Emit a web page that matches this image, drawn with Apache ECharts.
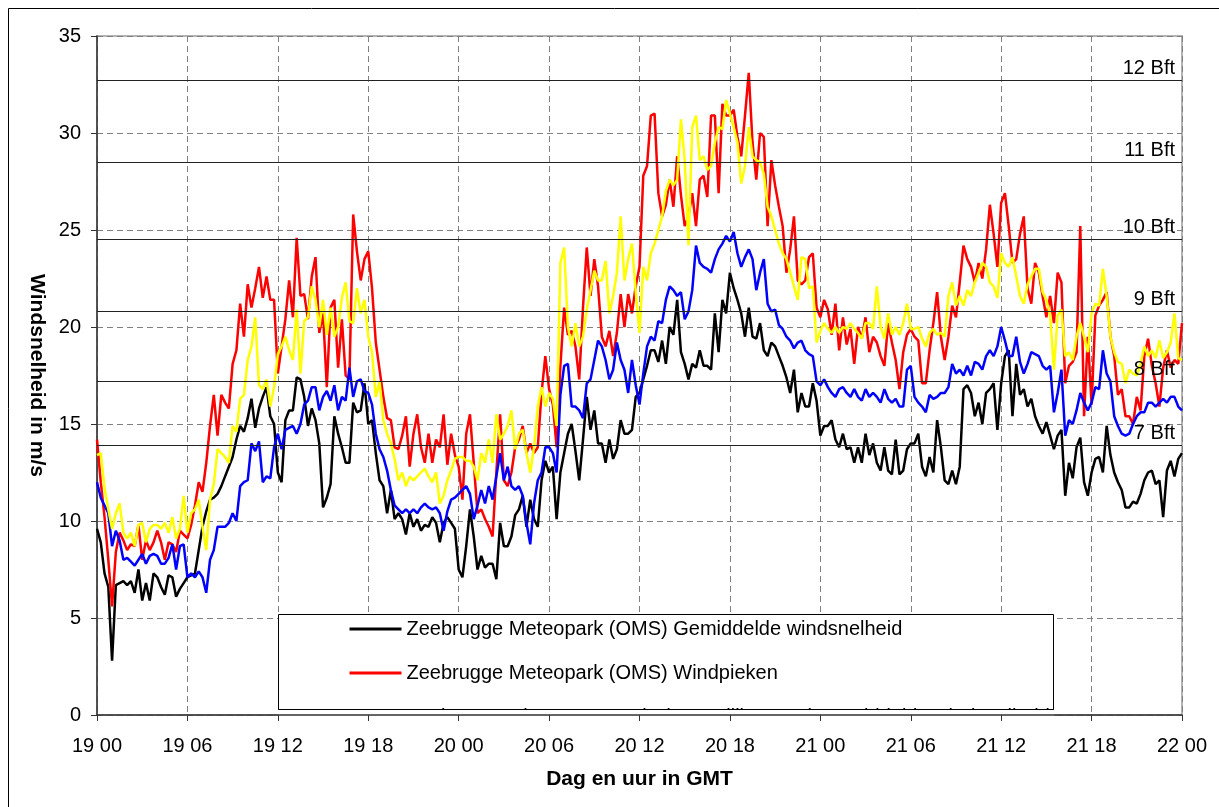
<!DOCTYPE html>
<html>
<head>
<meta charset="utf-8">
<script src="https://cdn.jsdelivr.net/npm/echarts@6/dist/echarts.min.js"></script>
<style>
  html, body { margin: 0; padding: 0; background: #fff; }
  #wind-chart { width: 1219px; height: 807px; }
</style>
</head>
<body>
<div id="wind-chart"></div>
<script>
// one reading every 15 minutes, 19 00 -> 22 00 (72 h)
const stepHours = 0.25
const tickLabels = ['19 00', '19 06', '19 12', '19 18', '20 00', '20 06', '20 12', '20 18', '21 00', '21 06', '21 12', '21 18', '22 00']
const bftLevels = [13.9, 17.2, 20.8, 24.5, 28.5, 32.7]
const bftLabels = ['7 Bft', '8 Bft', '9 Bft', '10 Bft', '11 Bft', '12 Bft']
const seriesNames = [
  'Zeebrugge Meteopark (OMS) Gemiddelde windsnelheid',
  'Zeebrugge Meteopark (OMS) Windpieken',
  'Zeebrugge Dienstmeetstatie (Westelijke Dam) Gemiddelde windsnelheid',
  'Zeebrugge Dienstmeetstatie (Westelijke Dam) Windpieken'
]

const meanOms = [
  9.6, 8.9, 7.3, 6.6, 2.8, 6.7, 6.8, 6.9, 6.7, 6.9, 6.3, 7.5,
  5.9, 6.8, 5.9, 7.3, 7.1, 6.6, 6.2, 7.2, 7.1, 6.1, 6.5, 6.8,
  7.1, 7.2, 7.3, 8.5, 9.7, 10.5, 11.1, 11.2, 11.4, 11.8, 12.3, 12.8,
  13.3, 14.2, 14.9, 14.6, 15.3, 16.3, 14.8, 15.8, 16.4, 16.9, 15.4, 15.0,
  12.5, 12.0, 15.2, 15.7, 15.7, 17.4, 17.3, 16.4, 14.9, 15.8, 15.2, 14.0,
  10.7, 11.2, 11.9, 15.4, 14.5, 13.8, 13.0, 13.0, 16.1, 15.6, 15.7, 17.1,
  15.0, 15.2, 13.5, 12.1, 11.8, 10.4, 11.6, 10.1, 10.4, 10.1, 9.3, 10.4,
  9.7, 10.1, 9.5, 9.8, 9.7, 10.2, 9.9, 8.9, 9.9, 10.2, 9.9, 9.6,
  7.5, 7.1, 8.7, 10.6, 9.2, 7.5, 8.2, 7.6, 7.8, 7.8, 7.0, 9.9,
  8.7, 8.7, 9.2, 10.3, 10.6, 11.3, 9.7, 11.1, 10.1, 9.7, 12.1, 13.1,
  12.5, 12.8, 10.1, 12.5, 13.5, 14.5, 15.0, 13.6, 12.1, 14.2, 16.4, 14.7,
  15.7, 14.0, 14.0, 13.0, 14.2, 13.2, 13.7, 15.2, 14.5, 14.5, 14.7, 16.4,
  16.6, 17.3, 18.0, 18.8, 18.8, 18.2, 19.3, 18.1, 20.0, 19.6, 21.4, 18.7,
  18.1, 17.3, 18.1, 17.9, 18.8, 18.0, 18.0, 17.8, 20.7, 18.7, 21.4, 20.7,
  22.8, 22.0, 21.4, 20.7, 19.5, 21.0, 19.5, 19.4, 20.2, 18.8, 18.5, 19.2,
  19.0, 18.5, 18.0, 17.4, 16.6, 17.8, 15.6, 16.6, 15.9, 15.9, 17.1, 16.2,
  14.4, 14.9, 14.9, 15.2, 14.2, 13.8, 14.5, 13.7, 13.8, 13.0, 13.8, 13.0,
  14.5, 13.4, 14.0, 13.0, 12.6, 13.8, 12.6, 12.4, 14.2, 12.4, 12.6, 13.7,
  14.0, 14.0, 14.5, 12.8, 12.3, 13.3, 12.5, 15.2, 13.8, 12.1, 11.9, 12.6,
  11.9, 12.8, 16.8, 17.0, 16.6, 15.4, 16.1, 15.0, 16.6, 16.8, 17.1, 14.7,
  17.1, 18.5, 18.8, 15.4, 18.1, 16.5, 16.8, 15.9, 16.3, 15.4, 14.9, 14.5,
  15.1, 14.4, 13.7, 14.4, 14.7, 11.3, 13.0, 12.2, 13.8, 14.3, 12.0, 11.3,
  12.5, 13.2, 13.3, 12.5, 14.9, 13.4, 12.5, 12.0, 11.6, 10.7, 10.7, 11.0,
  10.9, 11.4, 12.1, 12.5, 12.6, 11.9, 12.1, 10.2, 12.6, 13.1, 12.3, 13.2,
  13.5
]

const gustOms = [
  14.2, 12.0, 10.2, 8.0, 5.6, 8.4, 9.4, 9.0, 8.5, 8.8, 8.7, 9.8,
  8.0, 9.0, 8.5, 8.9, 9.5, 8.9, 8.0, 8.9, 8.8, 8.4, 9.5, 9.3,
  9.1, 9.8, 10.8, 12.0, 11.5, 13.0, 14.9, 16.5, 14.4, 16.5, 16.1, 15.8,
  18.1, 18.8, 21.2, 19.5, 22.2, 21.0, 22.0, 23.1, 21.5, 22.6, 21.4, 21.4,
  17.6, 19.0, 20.4, 22.4, 20.5, 24.6, 21.6, 21.7, 20.4, 22.6, 23.6, 19.7,
  20.7, 16.9, 21.0, 21.4, 17.9, 20.4, 17.5, 17.3, 25.8, 23.9, 22.4, 23.5,
  23.9, 22.0, 19.2, 17.8, 16.4, 15.3, 15.2, 13.8, 13.7, 14.4, 15.4, 12.8,
  14.5, 15.5, 13.8, 13.0, 14.5, 13.0, 14.2, 13.8, 15.5, 12.9, 14.5, 13.4,
  12.8, 11.1, 14.5, 15.5, 13.0, 10.4, 10.6, 10.1, 9.7, 9.2, 12.5, 15.5,
  12.1, 11.8, 12.5, 13.8, 14.2, 14.9, 13.5, 14.0, 13.5, 13.8, 16.6, 18.5,
  16.8, 16.0, 13.8, 18.0, 21.0, 19.6, 19.8, 19.0, 17.3, 21.0, 24.1, 21.6,
  23.5, 22.1, 19.5, 19.0, 19.8, 18.5, 19.7, 21.7, 20.0, 21.7, 20.7, 22.1,
  23.1, 27.8, 28.3, 30.9, 31.0, 26.9, 25.7, 26.3, 27.6, 26.2, 28.8, 26.8,
  25.2, 25.7, 26.9, 25.2, 27.6, 27.8, 26.7, 30.9, 30.9, 26.9, 31.5, 30.9,
  30.9, 31.2, 29.8, 28.8, 30.9, 33.1, 29.5, 27.6, 30.0, 29.8, 25.2, 28.6,
  27.3, 26.2, 25.2, 22.8, 24.0, 25.7, 22.4, 22.2, 22.4, 23.6, 23.8, 21.0,
  20.5, 21.4, 20.9, 19.6, 21.2, 18.8, 20.5, 19.1, 19.9, 18.1, 20.0, 19.4,
  20.5, 18.7, 19.5, 19.2, 18.5, 18.0, 20.2, 19.2, 18.3, 16.8, 18.7, 19.6,
  19.9, 19.5, 19.3, 17.1, 17.1, 18.8, 20.2, 21.8, 19.5, 18.3, 19.5, 21.1,
  20.5, 22.3, 24.2, 23.5, 23.1, 22.3, 23.3, 22.5, 24.0, 26.3, 24.8, 23.1,
  26.4, 26.9, 25.2, 23.3, 23.5, 24.8, 25.7, 22.0, 21.2, 23.3, 22.8, 21.6,
  20.5, 21.6, 20.2, 22.8, 22.3, 17.1, 18.0, 18.2, 18.7, 25.2, 15.4, 19.5,
  16.0, 20.6, 21.1, 21.4, 21.8, 19.5, 18.5, 16.5, 16.8, 15.4, 15.4, 15.0,
  16.4, 15.7, 18.5, 19.4, 18.0, 17.1, 15.9, 17.9, 18.8, 17.9, 18.3, 18.1,
  20.2
]

const meanDam = [
  12.0, 11.2, 10.8, 10.4, 8.7, 9.5, 9.0, 8.0, 8.1, 7.9, 7.7, 8.0,
  8.3, 7.8, 8.2, 8.3, 8.2, 7.8, 7.8, 8.1, 8.8, 7.5, 8.7, 8.8,
  7.1, 7.3, 7.1, 7.4, 7.1, 6.3, 8.0, 8.5, 9.7, 9.7, 9.7, 9.9,
  10.4, 10.0, 11.8, 12.0, 12.1, 14.0, 13.6, 14.1, 12.0, 12.3, 12.2, 13.8,
  14.5, 13.7, 14.7, 14.8, 14.9, 14.5, 15.0, 16.0, 16.2, 16.9, 16.9, 15.7,
  16.4, 16.7, 16.2, 17.0, 15.7, 16.4, 16.2, 17.9, 16.4, 17.2, 17.3, 16.7,
  16.6, 16.0, 14.5, 13.7, 13.3, 12.6, 11.6, 10.8, 10.6, 10.4, 10.6, 10.4,
  10.6, 10.4, 10.7, 10.9, 10.7, 10.6, 10.7, 10.4, 9.5, 10.5, 11.1, 11.2,
  11.4, 11.6, 11.8, 11.4, 10.1, 10.8, 11.6, 10.9, 11.8, 11.1, 12.3, 13.5,
  12.1, 12.8, 11.8, 11.6, 11.8, 11.3, 9.9, 8.8, 10.9, 12.1, 12.5, 13.8,
  13.8, 13.5, 12.5, 16.5, 18.0, 18.1, 15.9, 15.9, 15.7, 15.3, 17.1, 17.3,
  18.3, 19.3, 19.0, 18.3, 17.3, 17.8, 19.2, 18.3, 17.8, 16.6, 18.3, 17.0,
  16.0, 17.6, 19.0, 19.5, 19.3, 20.3, 20.2, 21.4, 22.1, 21.9, 21.6, 21.8,
  20.4, 20.8, 21.9, 24.2, 23.3, 23.1, 23.0, 22.8, 23.5, 24.0, 24.3, 24.7,
  24.4, 24.9, 23.8, 23.1, 23.6, 24.0, 23.5, 21.9, 22.8, 23.5, 21.2, 20.8,
  20.9, 20.1, 19.9, 19.5, 19.3, 18.9, 19.2, 19.3, 18.8, 18.6, 18.5, 17.2,
  17.0, 17.3, 16.9, 16.6, 16.4, 16.8, 16.9, 16.6, 16.4, 16.8, 16.4, 16.2,
  16.8, 16.4, 16.6, 16.4, 16.1, 16.8, 16.3, 16.1, 16.3, 15.9, 15.9, 17.8,
  18.0, 16.4, 16.1, 15.9, 15.6, 16.5, 16.3, 16.4, 16.6, 16.6, 16.9, 18.1,
  17.6, 17.8, 17.5, 18.0, 17.5, 18.2, 18.1, 17.8, 18.5, 18.8, 18.5, 19.0,
  20.0, 19.3, 18.5, 18.5, 19.5, 18.2, 17.6, 18.1, 18.7, 18.6, 18.5, 18.0,
  17.8, 18.0, 15.6, 16.6, 17.8, 14.4, 15.2, 15.0, 15.7, 16.6, 16.1, 15.7,
  16.1, 16.9, 16.8, 18.8, 17.6, 17.2, 15.4, 14.9, 14.5, 14.4, 14.5, 15.0,
  15.4, 15.6, 15.6, 16.1, 16.1, 15.9, 16.1, 16.3, 16.1, 16.4, 16.4, 15.9,
  15.7
]

const gustDam = [
  13.4, 13.5, 11.7, 10.6, 9.6, 10.4, 10.9, 9.4, 9.1, 9.4, 8.7, 9.8,
  9.9, 8.9, 9.6, 9.8, 9.8, 9.6, 9.9, 9.4, 10.2, 9.1, 9.6, 11.3,
  9.4, 10.4, 10.6, 11.1, 9.7, 8.5, 11.1, 11.9, 13.7, 13.5, 13.3, 13.0,
  14.9, 14.6, 16.3, 16.5, 18.3, 19.0, 20.5, 17.0, 16.8, 17.3, 15.9, 16.9,
  18.6, 19.0, 19.5, 18.8, 18.3, 20.9, 17.6, 20.3, 20.5, 22.1, 21.4, 20.0,
  21.4, 19.6, 21.0, 19.5, 20.0, 21.5, 22.3, 20.3, 20.2, 22.0, 20.7, 21.4,
  19.5, 18.7, 16.4, 17.2, 15.2, 14.5, 14.0, 13.2, 12.1, 12.5, 11.8, 12.3,
  12.1, 12.3, 12.5, 12.7, 12.3, 12.0, 12.5, 10.9, 11.3, 12.1, 12.6, 13.2,
  13.3, 13.3, 13.1, 13.1, 12.8, 12.1, 13.5, 13.0, 14.2, 13.0, 15.5, 14.2,
  14.5, 14.9, 15.7, 13.7, 14.5, 14.7, 13.5, 12.5, 13.8, 15.9, 16.9, 15.9,
  16.6, 16.3, 14.9, 23.3, 24.1, 20.0, 19.0, 20.2, 19.0, 19.5, 20.9, 21.9,
  22.9, 22.4, 22.4, 23.4, 20.7, 21.6, 22.8, 25.7, 22.4, 23.5, 24.3, 21.8,
  19.7, 23.1, 22.4, 23.8, 24.3, 25.0, 25.7, 27.0, 27.6, 27.3, 27.6, 30.7,
  28.6, 24.2, 30.3, 30.9, 28.6, 28.8, 28.1, 28.3, 29.5, 30.3, 30.2, 31.7,
  31.0, 30.3, 29.5, 27.4, 28.3, 30.3, 28.8, 28.6, 28.5, 27.9, 26.2, 25.7,
  25.0, 24.3, 23.8, 23.5, 22.8, 22.1, 21.4, 23.6, 23.5, 22.0, 22.1, 19.2,
  19.8, 20.2, 19.9, 19.7, 20.0, 19.7, 20.0, 19.9, 20.2, 19.9, 19.7, 19.4,
  20.2, 20.2, 19.9, 22.1, 20.0, 19.4, 20.7, 19.6, 20.0, 19.6, 20.2, 21.2,
  19.9, 19.9, 20.0, 19.4, 19.0, 19.7, 19.9, 19.6, 19.7, 19.5, 21.6, 22.3,
  21.1, 21.6, 21.1, 21.9, 21.6, 22.3, 22.8, 23.3, 23.1, 22.3, 22.1, 21.5,
  23.8, 23.3, 23.1, 23.6, 22.6, 21.6, 21.2, 22.2, 22.6, 23.0, 23.0, 21.8,
  21.4, 20.6, 17.8, 20.6, 20.9, 18.5, 18.7, 18.3, 19.5, 20.2, 19.5, 18.7,
  20.7, 21.2, 21.1, 23.0, 21.6, 19.5, 18.7, 18.2, 18.1, 17.1, 17.8, 17.6,
  17.5, 18.1, 19.0, 18.5, 18.8, 18.4, 19.3, 18.4, 18.7, 19.2, 20.7, 18.4,
  18.3
]

const font = 'Liberation Sans, Arial, sans-serif'
const lineColors = ['#000000', '#ff0000', '#0000ff', '#ffff00']

const chart = echarts.init(document.getElementById('wind-chart'))

const option = {
  animation: false,
  textStyle: { fontFamily: font },
  grid: {
    left: 97,
    right: 37,
    top: 36,
    bottom: 92,
    show: true,
    borderColor: '#b4b4b4',
    borderWidth: 2,
    backgroundColor: 'transparent'
  },
  legend: {
    orient: 'vertical',
    left: 348,
    top: 619,
    padding: 0,
    itemWidth: 52,
    itemHeight: 20,
    itemGap: 24,
    z: 4,
    selectedMode: false,
    data: seriesNames,
    itemStyle: { opacity: 0 },
    lineStyle: { width: 3 },
    textStyle: { fontFamily: font, fontSize: 20, color: '#000' }
  },
  xAxis: [
    {
      // grid lines only, drawn under the legend box
      type: 'value',
      min: 0,
      max: 72,
      interval: 6,
      position: 'bottom',
      axisLine: { show: false },
      axisTick: { show: false },
      axisLabel: { show: false },
      splitLine: { show: true, lineStyle: { color: '#808080', width: 1, type: [6, 4] } }
    },
    {
      // axis line, ticks, labels, name - drawn above the legend box
      type: 'value',
      min: 0,
      max: 72,
      interval: 6,
      position: 'bottom',
      z: 10,
      axisLine: { show: true, onZero: false, lineStyle: { color: '#333', width: 1.5 } },
      axisTick: { show: true, length: 6, lineStyle: { color: '#333' } },
      axisLabel: {
        margin: 21,
        fontSize: 20,
        color: '#000',
        fontFamily: font,
        formatter: v => tickLabels[Math.round(v / 6)]
      },
      splitLine: { show: false },
      name: 'Dag en uur in GMT',
      nameLocation: 'middle',
      nameGap: 54,
      nameTextStyle: { fontSize: 21, fontWeight: 'bold', color: '#000', fontFamily: font }
    }
  ],
  yAxis: {
    type: 'value',
    min: 0,
    max: 35,
    interval: 5,
    axisLine: { show: true, lineStyle: { color: '#333', width: 1.5 } },
    axisTick: { show: true, length: 6, lineStyle: { color: '#333' } },
    axisLabel: { margin: 16, fontSize: 20, color: '#000', fontFamily: font },
    splitLine: { show: true, lineStyle: { color: '#808080', width: 1, type: [6, 4] } },
    name: 'Windsnelheid in m/s',
    nameLocation: 'middle',
    nameRotate: -90,
    nameGap: 50,
    nameTextStyle: { fontSize: 21, fontWeight: 'bold', color: '#000', fontFamily: font }
  },
  graphic: [
    {
      type: 'rect',
      shape: { x: 8.5, y: 8.5, width: 1300, height: 900 },
      style: { fill: 'none', stroke: '#000', lineWidth: 1 },
      silent: true,
      z: 0
    },
    {
      type: 'rect',
      shape: { x: 278.5, y: 614.5, width: 775, height: 95 },
      style: { fill: '#fff', stroke: '#000', lineWidth: 1 },
      silent: true,
      z: 3
    },
    {
      // the box cuts off the lower legend entries
      type: 'rect',
      shape: { x: 278, y: 710, width: 776, height: 88 },
      style: { fill: '#fff' },
      silent: true,
      z: 5
    },
    {
      type: 'line',
      shape: { x1: 278.5, y1: 709.5, x2: 1053.5, y2: 709.5 },
      style: { stroke: '#000', lineWidth: 1 },
      silent: true,
      z: 6
    }
  ],
  series: [
    {
      name: 'bft',
      type: 'line',
      data: [],
      z: 1,
      silent: true,
      markLine: {
        silent: true,
        symbol: 'none',
        animation: false,
        lineStyle: { color: '#222', width: 1, type: 'solid' },
        label: {
          position: 'insideEndTop',
          fontSize: 20,
          color: '#000',
          fontFamily: font,
          distance: [7, 2]
        },
        data: bftLevels.map((v, i) => ({ yAxis: v, label: { formatter: bftLabels[i] } }))
      }
    }
  ].concat([meanOms, gustOms, meanDam, gustDam].map((vals, i) => ({
    name: seriesNames[i],
    type: 'line',
    xAxisIndex: 0,
    symbol: 'none',
    z: 2,
    lineStyle: { width: 2.5, color: lineColors[i] },
    itemStyle: { color: lineColors[i] },
    data: vals.map((v, k) => [k * stepHours, v])
  })))
}

chart.setOption(option)
</script>
</body>
</html>
